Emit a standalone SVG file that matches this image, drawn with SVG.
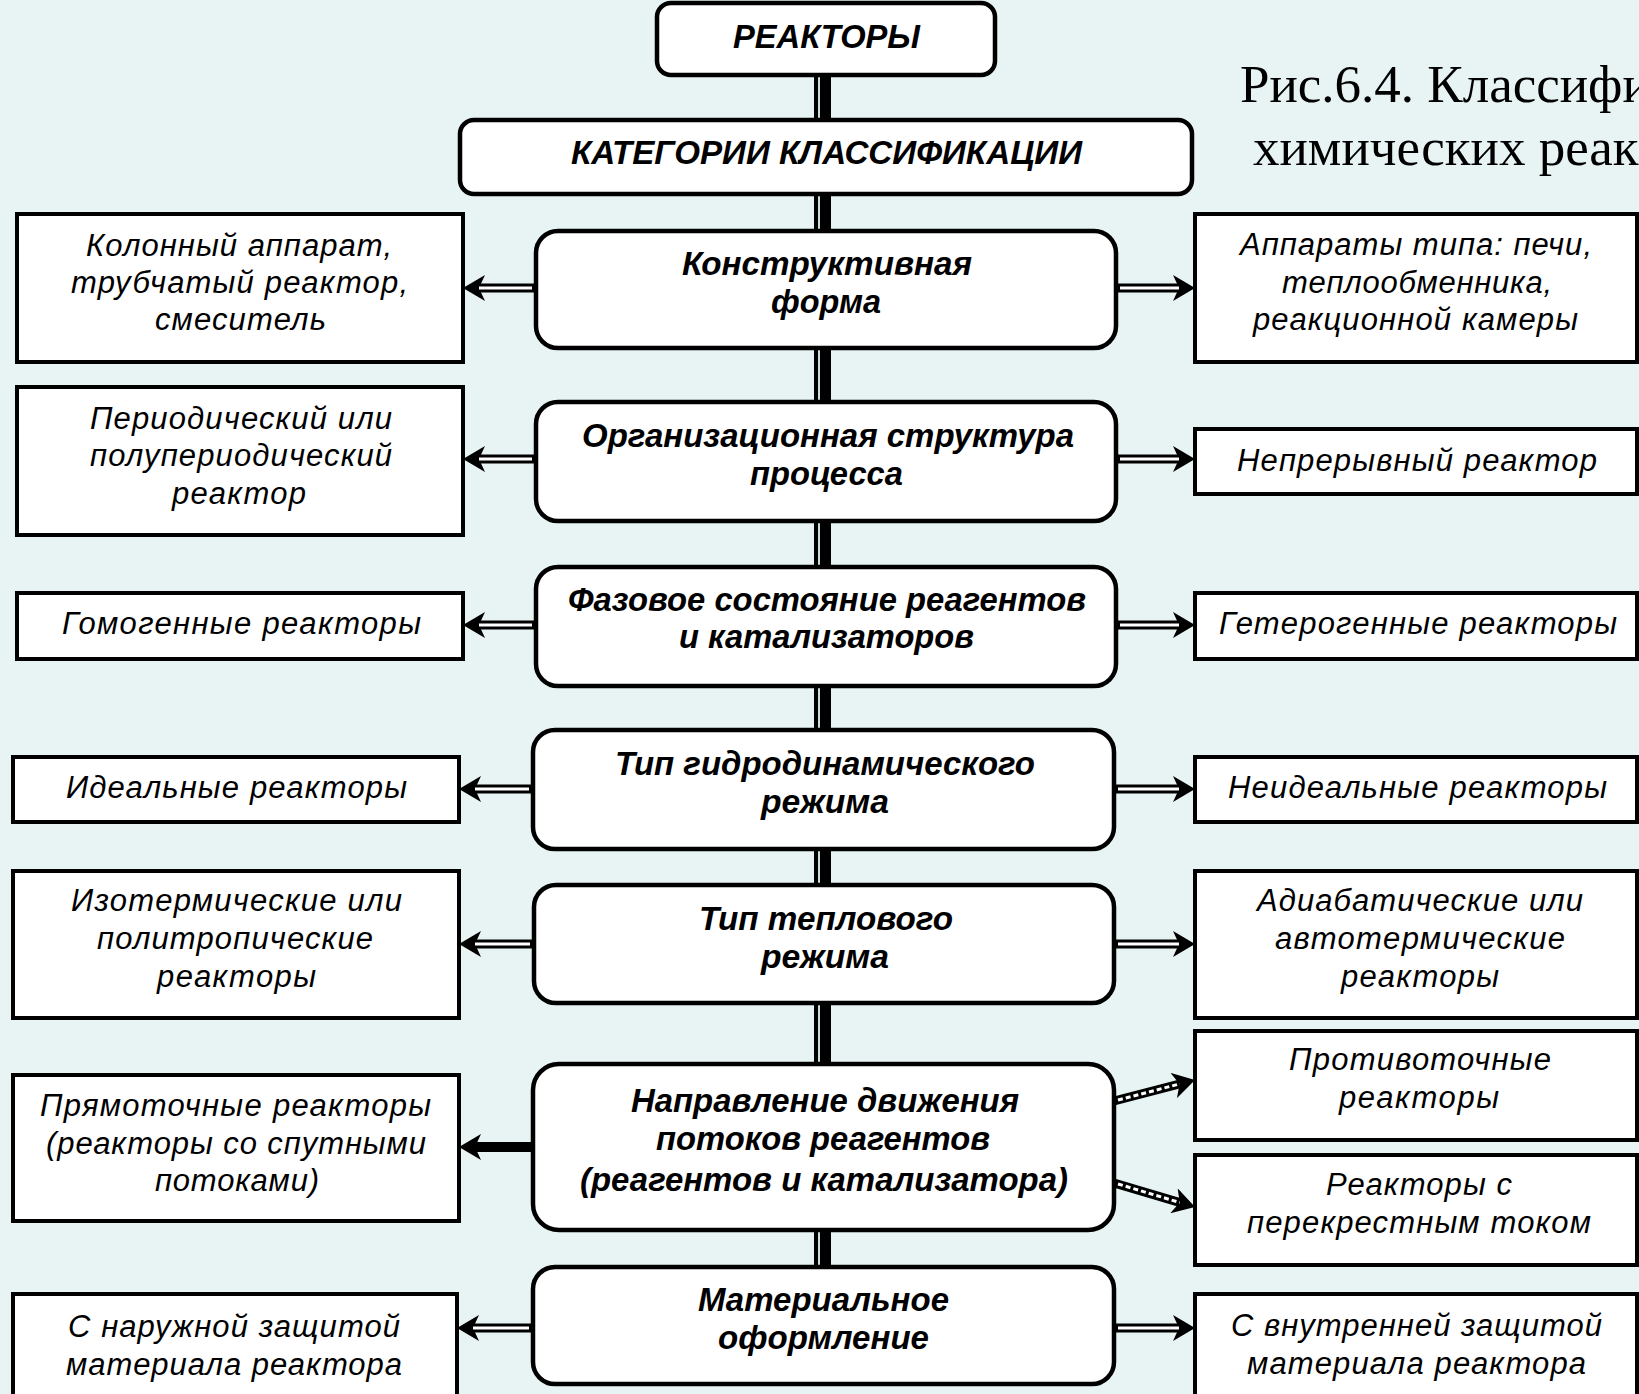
<svg xmlns="http://www.w3.org/2000/svg" width="1639" height="1394" viewBox="0 0 1639 1394">
<style>
.bg{fill:#e8f4f4}
.cb{fill:#fff;stroke:#000;stroke-width:4.5}
.sb{fill:#fff;stroke:#000;stroke-width:4}
.ct{font-family:"Liberation Sans",Arial,sans-serif;font-size:34px;font-weight:bold;font-style:italic;fill:#000}
.st{font-family:"Liberation Sans",Arial,sans-serif;font-size:31px;font-style:italic;fill:#000}
.title{font-family:"Liberation Serif","Times New Roman",serif;font-size:53px;fill:#000}
.sh{fill:none;stroke:#000;stroke-width:9}
.shw{fill:none;stroke:#fff;stroke-width:3}
.shs{fill:none;stroke:#000;stroke-width:10}
.shd{fill:none;stroke:#fff;stroke-width:3;stroke-dasharray:5 3}
</style>
<defs>
<marker id="ah" markerUnits="userSpaceOnUse" viewBox="0 0 22 26" refX="6" refY="13" markerWidth="22" markerHeight="26" orient="auto">
<path d="M0,0 L22,13 L0,26 L6,13 Z" fill="#000"/>
</marker>
</defs>
<rect class="bg" x="0" y="0" width="1639" height="1394"/>

<g id="connectors">
<rect x="814" y="70" width="17" height="1200" fill="#000"/>
<rect x="818" y="70" width="2" height="1200" fill="#c9dede"/>
<path class="sh" d="M536,288 H479" marker-end="url(#ah)"/><path class="shw" d="M532,288 H479"/>
<path class="sh" d="M1116,288 H1179" marker-end="url(#ah)"/><path class="shw" d="M1120,288 H1179"/>
<path class="sh" d="M536,459 H479" marker-end="url(#ah)"/><path class="shw" d="M532,459 H479"/>
<path class="sh" d="M1116,459 H1179" marker-end="url(#ah)"/><path class="shw" d="M1120,459 H1179"/>
<path class="sh" d="M536,625 H479" marker-end="url(#ah)"/><path class="shw" d="M532,625 H479"/>
<path class="sh" d="M1116,625 H1179" marker-end="url(#ah)"/><path class="shw" d="M1120,625 H1179"/>
<path class="sh" d="M533,789 H475" marker-end="url(#ah)"/><path class="shw" d="M529,789 H475"/>
<path class="sh" d="M1114,789 H1179" marker-end="url(#ah)"/><path class="shw" d="M1118,789 H1179"/>
<path class="sh" d="M534,944 H475" marker-end="url(#ah)"/><path class="shw" d="M530,944 H475"/>
<path class="sh" d="M1114,944 H1179" marker-end="url(#ah)"/><path class="shw" d="M1118,944 H1179"/>
<path class="shs" d="M533,1147 H475" marker-end="url(#ah)"/>
<path class="sh" d="M1114,1101 L1179.5,1084" marker-end="url(#ah)"/><path class="shd" d="M1118,1100 L1179.5,1084"/>
<path class="sh" d="M1114,1183 L1179.7,1202.5" marker-end="url(#ah)"/><path class="shd" d="M1118,1184 L1179.7,1202.5"/>
<path class="sh" d="M533,1328 H473" marker-end="url(#ah)"/><path class="shw" d="M529,1328 H473"/>
<path class="sh" d="M1114,1328 H1179" marker-end="url(#ah)"/><path class="shw" d="M1118,1328 H1179"/>
</g>

<g id="title">
<text class="title" x="1240" y="102">Рис.6.4. Классифи</text>
<text class="title" x="1253" y="165">химических реак</text>
</g>

<g id="n-reactors"><rect class="cb" x="657" y="3" width="338" height="72" rx="14"/>
<text class="ct" x="733" y="48" textLength="187" lengthAdjust="spacingAndGlyphs">РЕАКТОРЫ</text></g>
<g id="n-categories"><rect class="cb" x="460" y="120" width="732" height="74" rx="14"/>
<text class="ct" x="571" y="164" textLength="511" lengthAdjust="spacingAndGlyphs">КАТЕГОРИИ КЛАССИФИКАЦИИ</text></g>
<g id="n-construct"><rect class="cb" x="536" y="231" width="580" height="117" rx="22"/>
<text class="ct" x="682" y="275" textLength="290" lengthAdjust="spacingAndGlyphs">Конструктивная</text>
<text class="ct" x="771" y="313" textLength="110" lengthAdjust="spacingAndGlyphs">форма</text></g>
<g id="n-org"><rect class="cb" x="536" y="402" width="580" height="119" rx="22"/>
<text class="ct" x="582" y="447" textLength="492" lengthAdjust="spacingAndGlyphs">Организационная структура</text>
<text class="ct" x="750" y="485" textLength="153" lengthAdjust="spacingAndGlyphs">процесса</text></g>
<g id="n-phase"><rect class="cb" x="536" y="567" width="580" height="119" rx="22"/>
<text class="ct" x="568" y="611" textLength="518" lengthAdjust="spacingAndGlyphs">Фазовое состояние реагентов</text>
<text class="ct" x="679" y="648" textLength="295" lengthAdjust="spacingAndGlyphs">и катализаторов</text></g>
<g id="n-hydro"><rect class="cb" x="533" y="730" width="581" height="119" rx="22"/>
<text class="ct" x="615" y="775" textLength="420" lengthAdjust="spacingAndGlyphs">Тип гидродинамического</text>
<text class="ct" x="761" y="813" textLength="128" lengthAdjust="spacingAndGlyphs">режима</text></g>
<g id="n-thermal"><rect class="cb" x="534" y="885" width="580" height="118" rx="22"/>
<text class="ct" x="699" y="930" textLength="254" lengthAdjust="spacingAndGlyphs">Тип теплового</text>
<text class="ct" x="761" y="968" textLength="128" lengthAdjust="spacingAndGlyphs">режима</text></g>
<g id="n-flow"><rect class="cb" x="533" y="1064" width="581" height="166" rx="26"/>
<text class="ct" x="631" y="1112" textLength="388" lengthAdjust="spacingAndGlyphs">Направление движения</text>
<text class="ct" x="656" y="1150" textLength="334" lengthAdjust="spacingAndGlyphs">потоков реагентов</text>
<text class="ct" x="580" y="1191" textLength="488" lengthAdjust="spacingAndGlyphs">(реагентов и катализатора)</text></g>
<g id="n-material"><rect class="cb" x="533" y="1267" width="581" height="117" rx="22"/>
<text class="ct" x="698" y="1311" textLength="251" lengthAdjust="spacingAndGlyphs">Материальное</text>
<text class="ct" x="718" y="1349" textLength="211" lengthAdjust="spacingAndGlyphs">оформление</text></g>

<g id="l1"><rect class="sb" x="17" y="214" width="446" height="148"/>
<text class="st" x="86" y="256" textLength="306">Колонный аппарат,</text>
<text class="st" x="71" y="293" textLength="337">трубчатый реактор,</text>
<text class="st" x="155" y="330" textLength="171">смеситель</text></g>
<g id="l2"><rect class="sb" x="17" y="387" width="446" height="148"/>
<text class="st" x="90" y="429" textLength="302">Периодический или</text>
<text class="st" x="90" y="466" textLength="302">полупериодический</text>
<text class="st" x="172" y="504" textLength="134">реактор</text></g>
<g id="l3"><rect class="sb" x="17" y="593" width="446" height="66"/>
<text class="st" x="62" y="634" textLength="359">Гомогенные реакторы</text></g>
<g id="l4"><rect class="sb" x="13" y="757" width="446" height="65"/>
<text class="st" x="66" y="798" textLength="341">Идеальные реакторы</text></g>
<g id="l5"><rect class="sb" x="13" y="871" width="446" height="147"/>
<text class="st" x="71" y="911" textLength="331">Изотермические или</text>
<text class="st" x="97" y="949" textLength="276">политропические</text>
<text class="st" x="157" y="987" textLength="159">реакторы</text></g>
<g id="l6"><rect class="sb" x="13" y="1075" width="446" height="146"/>
<text class="st" x="40" y="1116" textLength="391">Прямоточные реакторы</text>
<text class="st" x="46" y="1154" textLength="380">(реакторы со спутными</text>
<text class="st" x="155" y="1191" textLength="164">потоками)</text></g>
<g id="l7"><rect class="sb" x="13" y="1294" width="444" height="110"/>
<text class="st" x="68" y="1337" textLength="332">С наружной защитой</text>
<text class="st" x="66" y="1375" textLength="336">материала реактора</text></g>

<g id="r1"><rect class="sb" x="1195" y="214" width="442" height="148"/>
<text class="st" x="1240" y="255" textLength="352">Аппараты типа: печи,</text>
<text class="st" x="1282" y="293" textLength="270">теплообменника,</text>
<text class="st" x="1253" y="330" textLength="325">реакционной камеры</text></g>
<g id="r2"><rect class="sb" x="1195" y="429" width="442" height="65"/>
<text class="st" x="1237" y="471" textLength="360">Непрерывный реактор</text></g>
<g id="r3"><rect class="sb" x="1195" y="593" width="442" height="66"/>
<text class="st" x="1219" y="634" textLength="398">Гетерогенные реакторы</text></g>
<g id="r4"><rect class="sb" x="1195" y="757" width="442" height="65"/>
<text class="st" x="1228" y="798" textLength="379">Неидеальные реакторы</text></g>
<g id="r5"><rect class="sb" x="1195" y="871" width="442" height="147"/>
<text class="st" x="1257" y="911" textLength="326">Адиабатические или</text>
<text class="st" x="1275" y="949" textLength="290">автотермические</text>
<text class="st" x="1341" y="987" textLength="158">реакторы</text></g>
<g id="r6"><rect class="sb" x="1195" y="1031" width="442" height="109"/>
<text class="st" x="1289" y="1070" textLength="262">Противоточные</text>
<text class="st" x="1339" y="1108" textLength="160">реакторы</text></g>
<g id="r7"><rect class="sb" x="1195" y="1155" width="442" height="110"/>
<text class="st" x="1326" y="1195" textLength="186">Реакторы с</text>
<text class="st" x="1247" y="1233" textLength="344">перекрестным током</text></g>
<g id="r8"><rect class="sb" x="1195" y="1294" width="442" height="110"/>
<text class="st" x="1231" y="1336" textLength="371">С внутренней защитой</text>
<text class="st" x="1247" y="1374" textLength="339">материала реактора</text></g>
</svg>
